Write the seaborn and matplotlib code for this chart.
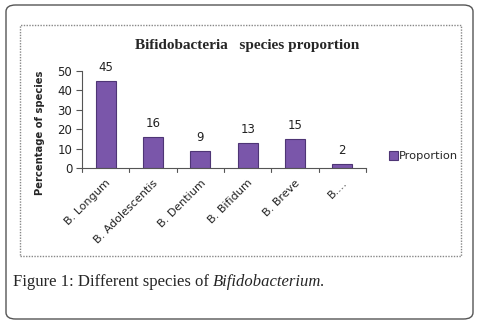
import matplotlib
matplotlib.use("Agg")
import matplotlib.pyplot as plt
import seaborn as sns
import pandas as pd
from matplotlib.patches import FancyBboxPatch, Rectangle

categories = ["B. Longum", "B. Adolescentis", "B. Dentium", "B. Bifidum", "B. Breve", "B.…"]
values = [45, 16, 9, 13, 15, 2]
series_name = "Proportion"
yticks = [0, 10, 20, 30, 40, 50]

sns.set_style("white")
plt.rcParams["font.family"] = ["DejaVu Sans"]

df = pd.DataFrame({"species": categories, "pct": values})

fig = plt.figure(figsize=(4.79, 3.27), dpi=100)
ax = fig.add_axes([82/479, 1-168/327, (366-82)/479, (168-71)/327])

sns.barplot(data=df, x="species", y="pct", color="#7a56aa", width=0.42,
            saturation=1, edgecolor="#4e3575", linewidth=0.8, ax=ax, label=series_name)
if ax.get_legend() is not None:
    ax.get_legend().remove()

ax.set_xlim(-0.5, 5.5)
ax.set_ylim(0, 50)
ax.set_yticks(yticks)
ax.set_yticklabels([str(t) for t in yticks], fontsize=8.5, color="#222222")
ax.set_xticks(range(len(categories)))
ax.set_xticklabels(categories, rotation=45, ha="right", rotation_mode="anchor",
                   fontsize=8, color="#222222")
ax.tick_params(axis="x", length=0, pad=7)
ax.tick_params(axis="y", length=4, width=0.8, color="#555555", direction="out", left=True, pad=3)
# boundary ticks on x axis
for b in [i - 0.5 for i in range(len(categories) + 1)]:
    ax.plot([b, b], [0, -2.2], color="#555555", lw=0.8, clip_on=False)

for side in ["top", "right"]:
    ax.spines[side].set_visible(False)
ax.spines["left"].set_color("#555555")
ax.spines["bottom"].set_color("#555555")
ax.spines["left"].set_linewidth(0.8)
ax.spines["bottom"].set_linewidth(0.8)

ax.set_xlabel("")
ax.set_ylabel("")
fig.text(40/479, 1-133/327, "Percentage of species", rotation=90, ha="center", va="center",
         fontsize=7.2, fontweight="bold")

for c in ax.containers:
    ax.bar_label(c, padding=5, fontsize=8.5, color="#222222")

handles, labels = ax.get_legend_handles_labels()
fig.legend(handles, labels, loc="center left", bbox_to_anchor=(384/479, 1-156/327),
           frameon=False, fontsize=8.2, handlelength=0.8, handleheight=0.8,
           handletextpad=0.15, borderaxespad=0)

fig.text(247/479, 1-45/327, "Bifidobacteria   species proportion", ha="center", va="center",
         fontsize=11, fontweight="bold", family="Liberation Serif")

t1 = fig.text(13/479, 1-282/327, "Figure 1: Different species of ", ha="left", va="center",
              fontsize=12, family="Liberation Serif")
r = fig.canvas.get_renderer()
bb = t1.get_window_extent(renderer=r)
fig.text(bb.x1/479, 1-282/327, "Bifidobacterium.", ha="left", va="center",
         fontsize=12, family="Liberation Serif", style="italic")

# inner dotted frame
fig.patches.append(Rectangle((20/479, 1-256/327), (461-20)/479, (256-25)/327,
                             transform=fig.transFigure, fill=False, edgecolor="#888888",
                             linewidth=1.0, linestyle=(0, (1, 1))))
# outer rounded frame
fig.patches.append(FancyBboxPatch((6/479, 1-319/327), (473-6)/479, (319-5)/327,
                                  boxstyle="round,pad=0,rounding_size=0.02",
                                  transform=fig.transFigure, fill=False,
                                  edgecolor="#555555", linewidth=1.0))

fig.savefig("out.png", dpi=100)
